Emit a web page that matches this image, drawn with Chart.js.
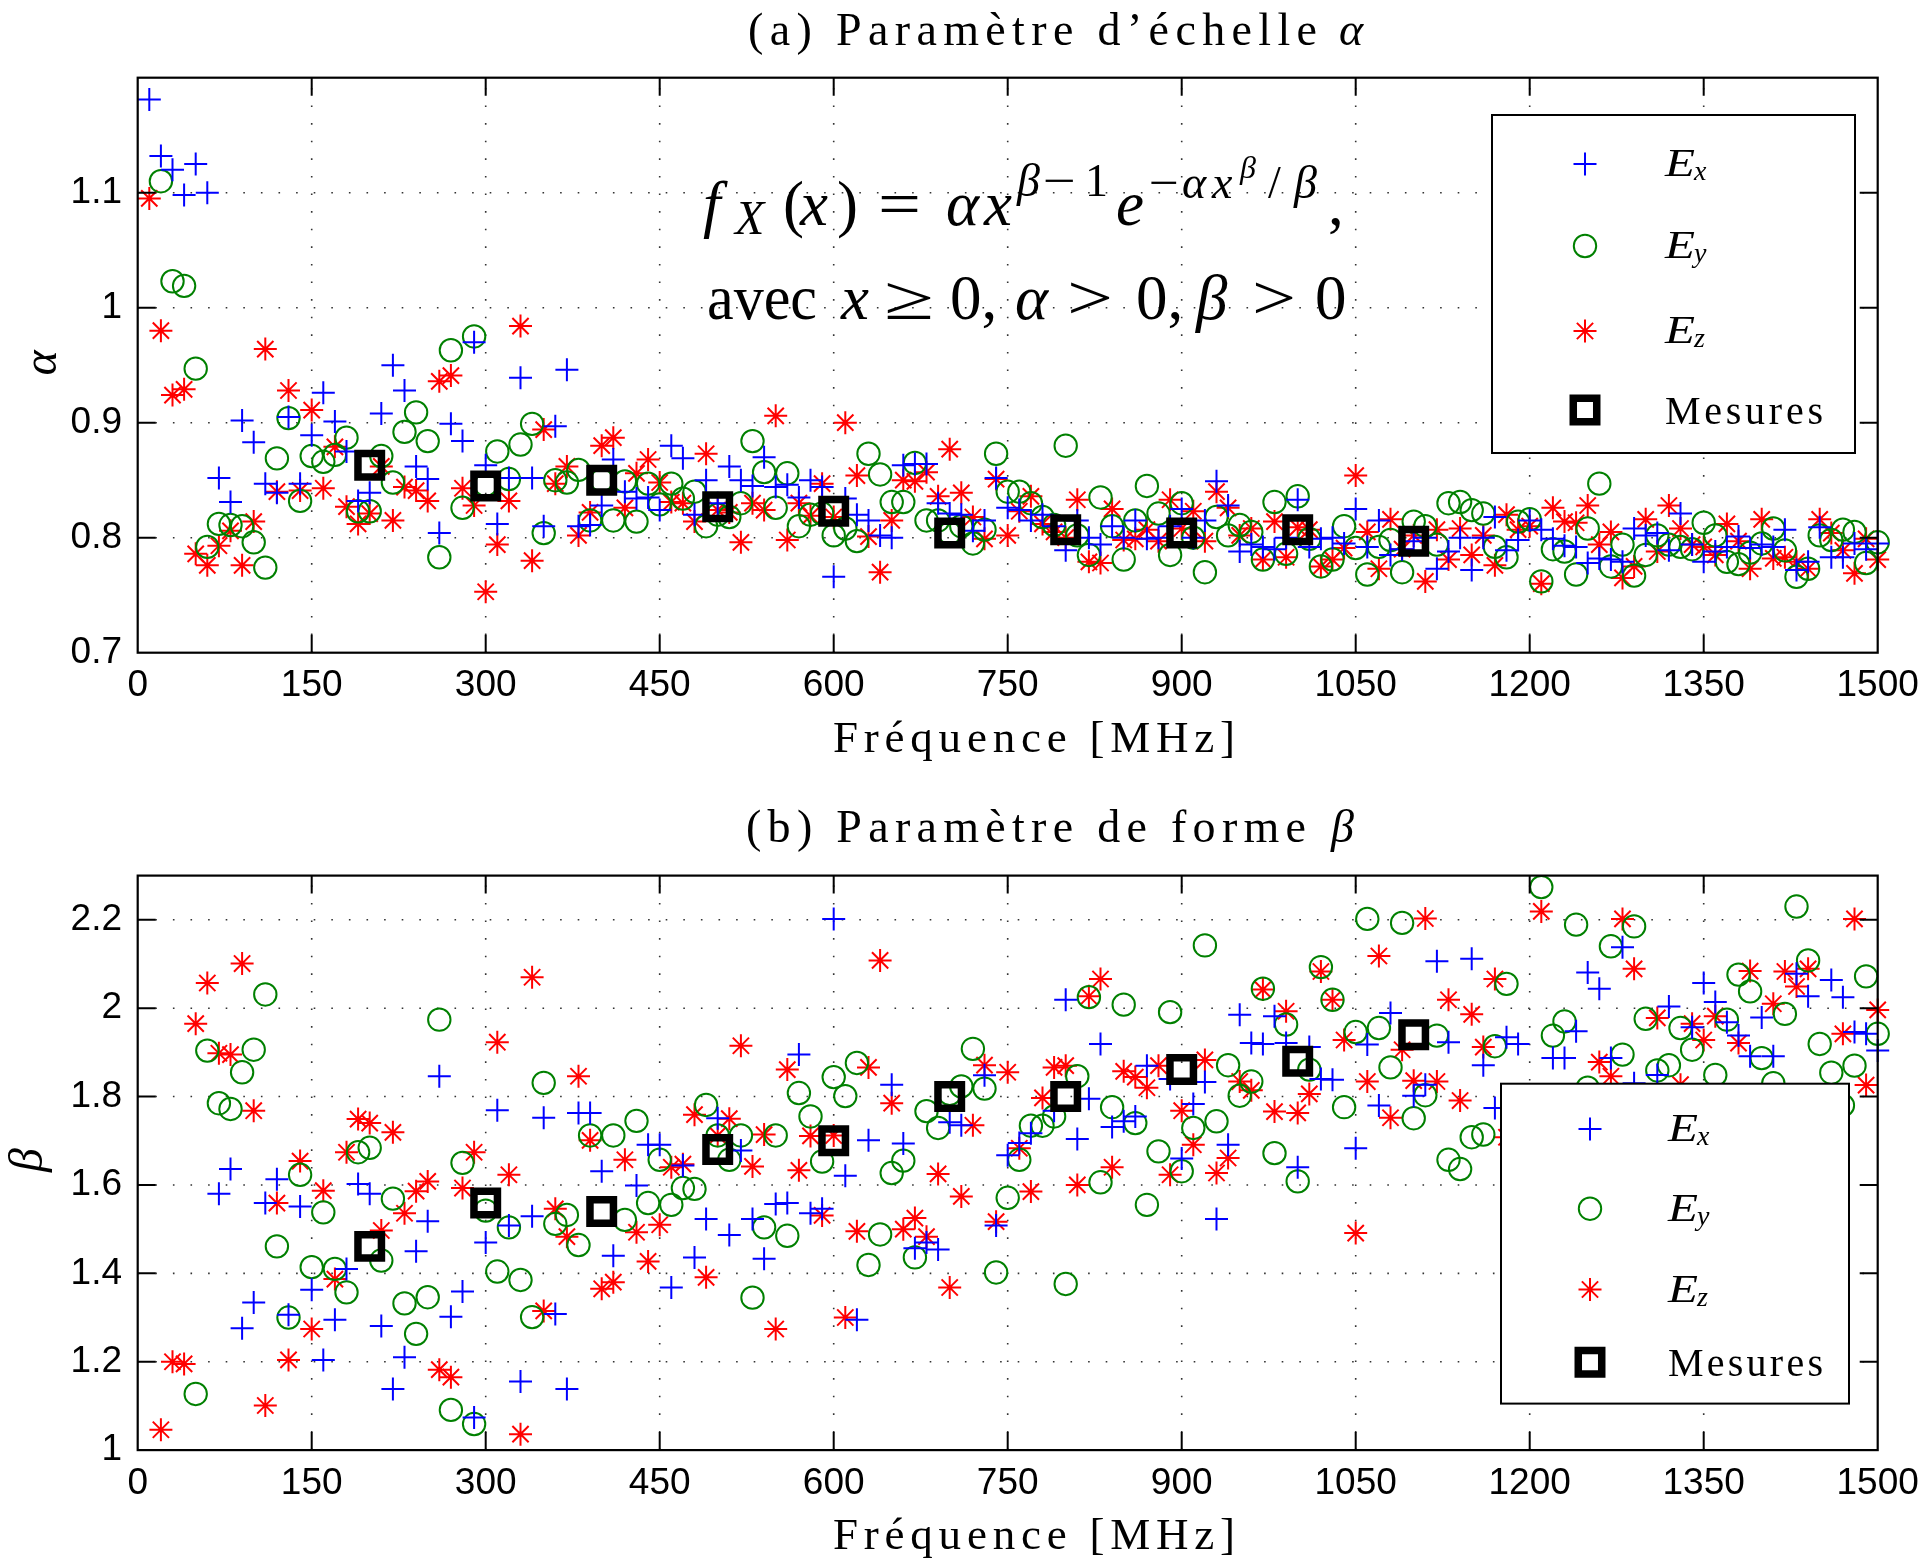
<!DOCTYPE html>
<html lang="fr">
<head>
<meta charset="utf-8">
<title>Paramètres d'échelle et de forme</title>
<script src="https://cdn.jsdelivr.net/npm/chart.js"></script>
<style>
  html, body { margin: 0; padding: 0; background: #fff; }
  #wrap { position: relative; width: 1932px; height: 1559px; overflow: hidden; background: #fff; }
  #wrap canvas { position: absolute; left: 0; }
  #chartA { top: 0; }
  #chartB { top: 780px; }
</style>
</head>
<body>
<div id="wrap">
  <canvas id="chartA" width="1932" height="780"></canvas>
  <canvas id="chartB" width="1932" height="779"></canvas>
</div>
<script>
// --- frequencies (MHz), one value every 10 MHz
const freq = [
  10, 20, 30, 40, 50, 60, 70, 80, 90, 100,
  110, 120, 130, 140, 150, 160, 170, 180, 190, 200,
  210, 220, 230, 240, 250, 260, 270, 280, 290, 300,
  310, 320, 330, 340, 350, 360, 370, 380, 390, 400,
  410, 420, 430, 440, 450, 460, 470, 480, 490, 500,
  510, 520, 530, 540, 550, 560, 570, 580, 590, 600,
  610, 620, 630, 640, 650, 660, 670, 680, 690, 700,
  710, 720, 730, 740, 750, 760, 770, 780, 790, 800,
  810, 820, 830, 840, 850, 860, 870, 880, 890, 900,
  910, 920, 930, 940, 950, 960, 970, 980, 990, 1000,
  1010, 1020, 1030, 1040, 1050, 1060, 1070, 1080, 1090, 1100,
  1110, 1120, 1130, 1140, 1150, 1160, 1170, 1180, 1190, 1200,
  1210, 1220, 1230, 1240, 1250, 1260, 1270, 1280, 1290, 1300,
  1310, 1320, 1330, 1340, 1350, 1360, 1370, 1380, 1390, 1400,
  1410, 1420, 1430, 1440, 1450, 1460, 1470, 1480, 1490, 1500
];

// --- (a) scale parameter alpha
const alphaEx = [
  1.181, 1.132, 1.120, 1.098, 1.125, 1.100, 0.852, 0.831, 0.902, 0.883,
  0.847, 0.839, 0.905, 0.847, 0.889, 0.926, 0.901, 0.875, 0.832, 0.839,
  0.908, 0.950, 0.928, 0.862, 0.851, 0.804, 0.899, 0.884, 0.970, 0.863,
  0.812, 0.852, 0.939, 0.852, 0.810, 0.897, 0.946, 0.810, 0.811, 0.828,
  0.868, 0.840, 0.834, 0.835, 0.824, 0.880, 0.869, 0.820, 0.850, 0.830,
  0.862, 0.850, 0.845, 0.870, 0.844, 0.846, 0.835, 0.850, 0.844, 0.766,
  0.834, 0.820, 0.815, 0.802, 0.800, 0.863, 0.864, 0.864, 0.830, 0.821,
  0.820, 0.806, 0.815, 0.852, 0.826, 0.824, 0.815, 0.820, 0.810, 0.789,
  0.815, 0.800, 0.794, 0.810, 0.800, 0.815, 0.799, 0.800, 0.810, 0.825,
  0.800, 0.815, 0.849, 0.828, 0.788, 0.794, 0.792, 0.790, 0.800, 0.833,
  0.792, 0.799, 0.800, 0.795, 0.825, 0.792, 0.815, 0.785, 0.790, 0.797,
  0.800, 0.773, 0.788, 0.800, 0.772, 0.800, 0.818, 0.789, 0.798, 0.815,
  0.807, 0.799, 0.793, 0.792, 0.778, 0.782, 0.781, 0.779, 0.808, 0.802,
  0.804, 0.789, 0.821, 0.794, 0.779, 0.788, 0.792, 0.801, 0.791, 0.794,
  0.792, 0.807, 0.772, 0.779, 0.809, 0.783, 0.783, 0.795, 0.790, 0.795
];
const alphaEy = [
  null, 1.110, 1.023, 1.019, 0.947, 0.792, 0.812, 0.811, 0.810, 0.796,
  0.774, 0.869, 0.904, 0.832, 0.871, 0.866, 0.872, 0.887, 0.823, 0.823,
  0.871, 0.848, 0.892, 0.909, 0.884, 0.783, 0.963, 0.826, 0.975, 0.846,
  0.875, 0.851, 0.881, 0.899, 0.804, 0.850, 0.848, 0.859, 0.815, 0.850,
  0.815, 0.849, 0.814, 0.847, 0.829, 0.847, 0.834, 0.840, 0.810, 0.820,
  0.818, 0.830, 0.884, 0.857, 0.826, 0.856, 0.810, 0.820, 0.821, 0.802,
  0.808, 0.797, 0.873, 0.855, 0.831, 0.831, 0.865, 0.815, 0.815, 0.804,
  0.810, 0.795, 0.807, 0.873, 0.840, 0.840, 0.830, 0.818, 0.811, 0.880,
  0.802, 0.785, 0.835, 0.810, 0.781, 0.815, 0.845, 0.821, 0.785, 0.830,
  0.800, 0.770, 0.818, 0.802, 0.811, 0.805, 0.781, 0.831, 0.786, 0.836,
  0.799, 0.775, 0.781, 0.810, 0.791, 0.768, 0.792, 0.798, 0.770, 0.814,
  0.810, 0.794, 0.830, 0.831, 0.824, 0.821, 0.792, 0.783, 0.814, 0.816,
  0.762, 0.790, 0.788, 0.768, 0.808, 0.847, 0.775, 0.794, 0.767, 0.785,
  0.802, 0.794, 0.792, 0.790, 0.813, 0.802, 0.779, 0.777, 0.787, 0.795,
  0.808, 0.789, 0.766, 0.773, 0.802, 0.798, 0.807, 0.805, 0.778, 0.796
];
const alphaEz = [
  1.095, 0.980, 0.924, 0.929, 0.786, 0.776, 0.793, 0.806, 0.776, 0.814,
  0.964, 0.840, 0.928, 0.841, 0.911, 0.843, 0.879, 0.827, 0.812, 0.821,
  0.862, 0.815, 0.844, 0.841, 0.832, 0.936, 0.941, 0.843, 0.828, 0.753,
  0.794, 0.832, 0.984, 0.780, 0.894, 0.847, 0.862, 0.802, 0.822, 0.880,
  0.887, 0.826, 0.856, 0.868, 0.848, 0.831, 0.830, 0.814, 0.873, 0.824,
  0.822, 0.796, 0.830, 0.824, 0.906, 0.798, 0.830, 0.819, 0.847, 0.818,
  0.900, 0.854, 0.801, 0.770, 0.815, 0.850, 0.849, 0.857, 0.836, 0.877,
  0.839, 0.818, 0.799, 0.851, 0.802, 0.823, 0.836, 0.812, 0.805, 0.800,
  0.833, 0.779, 0.778, 0.825, 0.798, 0.799, 0.807, 0.797, 0.833, 0.808,
  0.823, 0.797, 0.840, 0.826, 0.802, 0.808, 0.781, 0.814, 0.783, 0.809,
  0.807, 0.775, 0.781, 0.791, 0.854, 0.805, 0.773, 0.816, 0.790, 0.802,
  0.762, 0.807, 0.781, 0.808, 0.785, 0.802, 0.776, 0.820, 0.807, 0.810,
  0.760, 0.826, 0.814, 0.813, 0.828, 0.794, 0.805, 0.765, 0.775, 0.816,
  0.788, 0.828, 0.808, 0.794, 0.792, 0.785, 0.812, 0.797, 0.773, 0.816,
  0.782, 0.783, 0.779, 0.773, 0.816, 0.804, 0.789, 0.769, 0.799, 0.781
];

// --- (b) shape parameter beta
const betaEx = [
  null, null, null, null, null, null, 1.580, 1.636, 1.276, 1.334,
  1.559, 1.613, 1.306, 1.551, 1.363, 1.204, 1.295, 1.410, 1.602, 1.580,
  1.281, 1.138, 1.210, 1.450, 1.518, 1.846, 1.302, 1.359, 1.074, 1.470,
  1.769, 1.508, 1.155, 1.529, 1.752, 1.308, 1.138, 1.763, 1.763, 1.631,
  1.440, null, 1.599, 1.691, 1.691, 1.368, 1.644, 1.436, 1.523, 1.751,
  1.487, 1.678, 1.523, 1.433, 1.557, 1.559, 1.895, 1.536, 1.546, 2.202,
  1.621, 1.295, 1.701, null, 1.827, 1.694, 1.457, 1.470, 1.454, 1.742,
  1.735, null, 1.848, 1.508, 1.667, 1.695, 1.717, null, 1.768, 2.019,
  1.704, 1.795, 1.919, 1.731, 1.744, 1.755, 1.870, null, 1.840, 1.660,
  1.783, 1.833, 1.523, 1.691, 1.985, 1.921, 1.919, 1.982, 1.921, 1.640,
  1.912, 1.840, 1.838, null, 1.683, 1.918, 1.780, 1.989, null, 1.802,
  1.827, 2.106, 1.923, null, 2.112, 1.871, 1.774, 1.934, 1.919, null,
  null, 1.887, 1.887, 1.948, 2.081, 2.044, 1.887, 2.138, 1.830, null,
  1.849, 2.004, null, 1.957, 2.057, 2.014, 1.968, 1.938, 1.891, 1.979,
  1.891, null, 2.078, 2.027, null, 2.064, 2.025, 1.946, 1.942, 1.904
];
const betaEy = [
  null, null, null, null, 1.127, 1.904, 1.785, 1.772, 1.855, 1.906,
  2.031, 1.461, 1.300, 1.623, 1.414, 1.538, 1.410, 1.357, 1.674, 1.684,
  1.429, 1.569, 1.332, 1.263, 1.346, 1.974, 1.091, 1.650, 1.059, 1.542,
  1.404, 1.504, 1.385, 1.301, 1.831, 1.512, 1.532, 1.464, 1.712, null,
  1.712, 1.521, 1.745, 1.559, 1.657, 1.555, 1.593, 1.591, 1.781, 1.712,
  1.657, 1.712, 1.345, 1.504, 1.712, 1.485, 1.808, 1.755, 1.653, 1.844,
  1.801, 1.876, 1.419, 1.488, 1.627, 1.655, 1.436, 1.767, 1.729, 1.806,
  1.823, 1.908, 1.818, 1.402, 1.571, 1.657, 1.734, 1.734, 1.755, 1.376,
  1.846, 2.025, 1.606, 1.776, 2.008, 1.740, 1.555, 1.676, 1.991, 1.631,
  1.729, 2.142, 1.744, 1.871, 1.802, 1.834, 2.044, 1.672, 1.963, 1.608,
  1.861, 2.093, 2.019, 1.776, 1.946, 2.202, 1.955, 1.866, 2.193, 1.751,
  1.803, 1.938, 1.657, 1.636, 1.708, 1.714, 1.914, 2.055, null, null,
  2.274, 1.938, 1.970, 2.189, 1.820, null, 2.140, 1.895, 2.185, 1.976,
  1.859, 1.871, 1.955, 1.906, null, 1.849, 1.974, 2.076, 2.038, 1.887,
  1.830, 1.987, 2.230, 2.108, 1.919, 1.854, 1.780, 1.870, 2.072, 1.942
];
const betaEz = [
  null, 1.046, 1.200, 1.195, 1.965, 2.057, 1.898, 1.895, 2.101, 1.768,
  1.101, 1.559, 1.204, 1.654, 1.274, 1.587, 1.387, 1.674, 1.749, 1.740,
  1.497, 1.719, 1.536, 1.586, 1.608, 1.182, 1.165, 1.593, 1.674, null,
  1.923, 1.623, 1.036, 2.070, 1.315, 1.546, 1.483, 1.846, 1.701, 1.365,
  1.380, 1.657, 1.493, 1.427, 1.510, 1.640, 1.647, 1.759, 1.391, 1.712,
  1.750, 1.915, 1.642, 1.714, 1.274, 1.861, 1.633, 1.711, 1.531, 1.712,
  1.300, 1.495, 1.866, 2.108, 1.785, 1.500, 1.525, 1.483, 1.625, 1.368,
  1.574, 1.735, 1.871, 1.517, 1.855, 1.683, 1.585, 1.797, 1.866, 1.870,
  1.600, 2.027, 2.066, 1.640, 1.857, 1.844, 1.820, 1.870, 1.623, 1.768,
  1.691, 1.883, 1.627, 1.661, 1.834, 1.814, 2.042, 1.766, 1.993, 1.763,
  1.806, 2.083, 2.019, 1.928, 1.491, 1.834, 2.118, 1.752, 1.906, 1.836,
  2.203, 1.834, 2.019, 1.791, 1.986, 1.912, 2.066, 1.708, null, null,
  2.219, null, null, null, null, 1.878, 1.846, 2.202, 2.089, null,
  1.978, null, 1.827, 1.965, 1.928, 1.982, null, 1.921, 2.084, null,
  2.010, 2.083, 2.049, 2.089, null, null, 1.942, 2.202, 1.826, 1.996
];

// --- measurements (black squares)
const mesFreq = [200, 300, 400, 500, 600, 700, 800, 900, 1000, 1100];
const alphaMes = [0.863, 0.845, 0.850, 0.827, 0.823, 0.804, 0.807, 0.804, 0.807, 0.797];
const betaMes = [1.461, 1.559, 1.540, 1.680, 1.700, 1.800, 1.800, 1.861, 1.880, 1.940];

// --- axes
const xTickStep = 150;
const alphaRange = [0.7, 1.2], alphaStep = 0.1;
const betaRange = [1.0, 2.3], betaStep = 0.2;

const SERIF = '"Liberation Serif", "DejaVu Serif", serif';
const SANS = '"Liberation Sans", Arial, sans-serif';

// marker styles, same order as the legend
const MARKS = [
  { label: 'x', style: 'cross', color: '#0000ff', r: 11.5, bw: 2 },
  { label: 'y', style: 'circle', color: '#008000', r: 11.2, bw: 2 },
  { label: 'z', style: 'star', color: '#ff0000', r: 11.5, bw: 2 },
  { label: 'Mesures', style: 'rect', color: '#000000', r: 16.6, bw: 7.5 }
];

function pts(xs, ys) {
  return xs.map((f, i) => ({ x: f, y: ys[i] })).filter(p => p.y !== null && p.y !== undefined);
}

function dataset(m, data) {
  return {
    label: m.label,
    data: data,
    showLine: false,
    pointStyle: m.style,
    pointRadius: m.r,
    pointHoverRadius: m.r,
    pointBorderWidth: m.bw,
    pointBorderColor: m.color,
    borderColor: m.color,
    pointBackgroundColor: 'rgba(0,0,0,0)',
    backgroundColor: 'rgba(0,0,0,0)',
    clip: false
  };
}

// --- text helpers
function font(size, italic) {
  return (italic ? 'italic ' : '') + size + 'px ' + SERIF;
}
function put(ctx, s, x, y, size, italic, w) {
  ctx.font = font(size, italic);
  ctx.letterSpacing = '0px';
  if (w) {
    const m = ctx.measureText(s).width;
    ctx.save();
    ctx.translate(x, y);
    ctx.scale(w / m, 1);
    ctx.fillText(s, 0, 0);
    ctx.restore();
  } else {
    ctx.fillText(s, x, y);
  }
}
function spread(ctx, s, x, y, size, width, italic) {
  ctx.font = font(size, italic);
  ctx.letterSpacing = '0px';
  const w = ctx.measureText(s).width;
  const n = Array.from(s).length;
  ctx.letterSpacing = ((width - w) / (n - 1)) + 'px';
  ctx.fillText(s, x, y);
  ctx.letterSpacing = '0px';
}

function drawMarker(ctx, m, x, y) {
  ctx.save();
  ctx.strokeStyle = m.color;
  ctx.fillStyle = 'rgba(0,0,0,0)';
  ctx.lineWidth = m.bw;
  if (Chart.helpers && Chart.helpers.drawPoint) {
    Chart.helpers.drawPoint(ctx, { pointStyle: m.style, radius: m.r, rotation: 0, borderWidth: m.bw }, x, y);
  }
  ctx.restore();
}

function drawGrid(chart) {
  const { ctx, chartArea: a, scales: { x, y } } = chart;
  ctx.save();
  ctx.strokeStyle = '#333';
  ctx.lineWidth = 1.6;
  ctx.setLineDash([1.6, 16]);
  x.ticks.forEach(t => {
    const px = x.getPixelForValue(t.value);
    if (px <= a.left + 1 || px >= a.right - 1) return;
    ctx.beginPath(); ctx.moveTo(px, a.bottom); ctx.lineTo(px, a.top); ctx.stroke();
  });
  y.ticks.forEach(t => {
    const py = y.getPixelForValue(t.value);
    if (py <= a.top + 1 || py >= a.bottom - 1) return;
    ctx.beginPath(); ctx.moveTo(a.left, py); ctx.lineTo(a.right, py); ctx.stroke();
  });
  ctx.restore();
}

function drawFrame(chart) {
  const { ctx, chartArea: a, scales: { x, y } } = chart;
  const tl = 18;
  ctx.save();
  ctx.strokeStyle = '#000';
  ctx.lineWidth = 2;
  ctx.beginPath();
  x.ticks.forEach(t => {
    const px = x.getPixelForValue(t.value);
    if (px <= a.left + 1 || px >= a.right - 1) return;
    ctx.moveTo(px, a.bottom); ctx.lineTo(px, a.bottom - tl);
    ctx.moveTo(px, a.top); ctx.lineTo(px, a.top + tl);
  });
  y.ticks.forEach(t => {
    const py = y.getPixelForValue(t.value);
    if (py <= a.top + 1 || py >= a.bottom - 1) return;
    ctx.moveTo(a.left, py); ctx.lineTo(a.left + tl, py);
    ctx.moveTo(a.right, py); ctx.lineTo(a.right - tl, py);
  });
  ctx.stroke();
  ctx.lineWidth = 2.2;
  ctx.strokeRect(a.left, a.top, a.right - a.left, a.bottom - a.top);
  ctx.restore();
}

function drawLegend(ctx, L) {
  ctx.save();
  ctx.fillStyle = '#fff';
  ctx.fillRect(L.x0, L.y0, L.x1 - L.x0, L.y1 - L.y0);
  ctx.strokeStyle = '#000';
  ctx.lineWidth = 2;
  ctx.strokeRect(L.x0, L.y0, L.x1 - L.x0, L.y1 - L.y0);
  MARKS.forEach((m, i) => drawMarker(ctx, m, L.mx, L.rows[i]));
  ctx.fillStyle = '#000';
  ctx.textAlign = 'left';
  ctx.textBaseline = 'alphabetic';
  for (let i = 0; i < 3; i++) {
    const b = L.rows[i] + 12;
    put(ctx, 'E', L.tx, b, 40, true, 30);
    put(ctx, MARKS[i].label, L.tx + 29, b + 4, 28, true);
  }
  spread(ctx, 'Mesures', L.tx, L.rows[3] + 13.5, 40, L.mw, false);
  ctx.restore();
}

function drawFormula(ctx) {
  const y1 = 225, y2 = 319;
  // [text, x, dy, size, italic, stretch width]
  const line1 = [
    ['f', 703, 0, 63, true], ['X', 735, 9, 48, true], ['(', 783, 0, 63, false],
    ['x', 800, 0, 63, true], [')', 837, 0, 63, false], ['=', 878, 0, 63, false, 43],
    ['α', 946, 0, 63, true], ['x', 984, 0, 63, true],
    ['β', 1017, -29, 46, true], ['−', 1043, -29, 46, false, 33], ['1', 1085, -29, 46, false],
    ['e', 1116, 0, 63, true],
    ['−', 1149, -27, 46, false, 30], ['α', 1182, -27, 46, true], ['x', 1212, -27, 46, true],
    ['β', 1240, -47, 32, true], ['/', 1268, -27, 46, false], ['β', 1294, -27, 46, true],
    [',', 1328, 0, 63, false]
  ];
  const line2 = [
    ['avec', 707, 0, 63, false, 110], ['x', 841, 0, 63, true], ['≥', 884, 0, 63, false, 50],
    ['0,', 950, 0, 63, false], ['α', 1015, 0, 63, true], ['>', 1067, 0, 63, false, 46],
    ['0,', 1136, 0, 63, false], ['β', 1196, 0, 63, true], ['>', 1252, 0, 63, false, 44],
    ['0', 1315, 0, 63, false]
  ];
  line1.forEach(s => put(ctx, s[0], s[1], y1 + s[2], s[3], s[4], s[5]));
  line2.forEach(s => put(ctx, s[0], s[1], y2 + s[2], s[3], s[4], s[5]));
}

function makeDeco(cfg) {
  return {
    id: 'deco',
    beforeDatasetsDraw(chart) { drawGrid(chart); },
    afterDatasetsDraw(chart) {
      drawFrame(chart);
      drawLegend(chart.ctx, cfg.legend);
    },
    afterDraw(chart) {
      const ctx = chart.ctx;
      ctx.save();
      ctx.fillStyle = '#000';
      ctx.textAlign = 'left';
      ctx.textBaseline = 'alphabetic';
      spread(ctx, cfg.title.text, cfg.title.x, cfg.title.y, 46, cfg.title.w, false);
      put(ctx, cfg.title.greek, cfg.title.gx, cfg.title.y, 46, true);
      spread(ctx, 'Fréquence [MHz]', 833, cfg.xlabelY, 45, 402, false);
      ctx.save();
      ctx.translate(cfg.ylabel.x, cfg.ylabel.y);
      ctx.rotate(-Math.PI / 2);
      ctx.textAlign = 'center';
      put(ctx, cfg.ylabel.text, 0, 0, 48, true);
      ctx.restore();
      if (cfg.formula) drawFormula(ctx);
      ctx.restore();
    }
  };
}

function makeChart(id, cfg) {
  const [ymin, ymax] = cfg.range;
  return new Chart(document.getElementById(id), {
    type: 'scatter',
    data: {
      datasets: [
        dataset(MARKS[3], pts(mesFreq, cfg.mes)),
        dataset(MARKS[0], pts(freq, cfg.ex)),
        dataset(MARKS[1], pts(freq, cfg.ey)),
        dataset(MARKS[2], pts(freq, cfg.ez))
      ]
    },
    options: {
      responsive: false,
      maintainAspectRatio: false,
      animation: false,
      devicePixelRatio: 1,
      events: [],
      layout: { padding: { left: 0, top: cfg.padTop, right: 54.3, bottom: 0 } },
      plugins: { legend: { display: false }, tooltip: { enabled: false } },
      scales: {
        x: {
          type: 'linear', min: 0, max: 1500,
          grid: { display: false, drawTicks: false },
          border: { display: false },
          ticks: {
            stepSize: xTickStep, autoSkip: false, maxRotation: 0, minRotation: 0,
            padding: 11, color: '#000', font: { family: SANS, size: 37 },
            callback: v => String(v)
          },
          afterFit: s => { s.height = cfg.xh; }
        },
        y: {
          type: 'linear', min: ymin, max: ymax,
          grid: { display: false, drawTicks: false },
          border: { display: false },
          ticks: {
            stepSize: cfg.step, includeBounds: false,
            padding: 15.7, color: '#000', font: { family: SANS, size: 37 },
            callback: v => (Math.abs(v - ymax) < 1e-6 ? '' : String(+v.toFixed(1)))
          },
          afterFit: s => { s.width = 137.7; }
        }
      }
    },
    plugins: [makeDeco(cfg)]
  });
}

makeChart('chartA', {
  range: alphaRange, step: alphaStep, padTop: 77.7, xh: 780 - 652.7,
  ex: alphaEx, ey: alphaEy, ez: alphaEz, mes: alphaMes,
  title: { text: '(a) Paramètre d’échelle', x: 748, w: 569, y: 44.6, greek: 'α', gx: 1339 },
  xlabelY: 751.7,
  ylabel: { text: 'α', x: 56, y: 363 },
  formula: true,
  legend: { x0: 1492, y0: 115, x1: 1855, y1: 453, mx: 1585, tx: 1665, mw: 158, rows: [164, 246, 331, 410] }
});

makeChart('chartB', {
  range: betaRange, step: betaStep, padTop: 875.6 - 780, xh: 779 - (1450.1 - 780),
  ex: betaEx, ey: betaEy, ez: betaEz, mes: betaMes,
  title: { text: '(b) Paramètre de forme', x: 746, w: 560, y: 841.7 - 780, greek: 'β', gx: 1331 },
  xlabelY: 1549.1 - 780,
  ylabel: { text: 'β', x: 42, y: 1160 - 780 },
  formula: false,
  legend: { x0: 1501, y0: 1083.7 - 780, x1: 1849, y1: 1403.6 - 780, mx: 1590, tx: 1668, mw: 155,
            rows: [1128.9 - 780, 1208.7 - 780, 1289.5 - 780, 1362.2 - 780] }
});
</script>
</body>
</html>
